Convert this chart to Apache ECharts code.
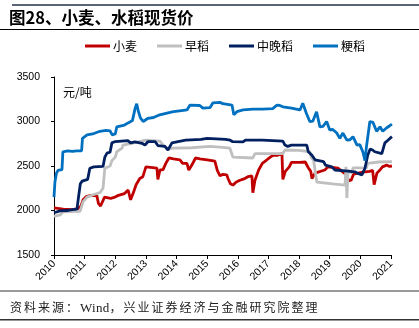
<!DOCTYPE html>
<html>
<head>
<meta charset="utf-8">
<script src="https://cdn.jsdelivr.net/npm/echarts@6/dist/echarts.min.js"></script>
<style>
  html, body { margin: 0; padding: 0; background: #fff; }
  #wrap { position: relative; width: 419px; height: 328px; }
  #chart { width: 419px; height: 328px; }
  #topRule { position: absolute; left: 12px; top: 4px; width: 407px; height: 2px; background: #5b6478; }
  #source {
    position: absolute; left: 10px; top: 298px;
    font-family: "Liberation Serif", "Noto Sans CJK SC", serif;
    font-size: 12px; letter-spacing: 2px; color: #222; white-space: nowrap;
  }
  #source .latin { letter-spacing: 0.3px; font-size: 13px; }
</style>
</head>
<body>
<div id="wrap">
  <div id="chart"></div>
  <div id="topRule"></div>
  <div id="source">资料来源：<span class="latin">Wind</span>，兴业证券经济与金融研究院整理</div>
</div>
<script>
// Spot prices, yuan per tonne, as [year, price]
var wheat = [
  [2010.0,2030],[2010.3,2015],[2010.6,2010],[2010.78,2020],[2010.88,2050],[2010.95,2120],
  [2011.05,2155],[2011.2,2170],[2011.4,2165],[2011.45,2080],[2011.52,2050],[2011.58,2055],
  [2011.65,2150],[2011.85,2135],[2011.98,2150],[2012.1,2170],[2012.3,2190],[2012.42,2230],
  [2012.5,2120],[2012.58,2190],[2012.68,2290],[2012.8,2360],[2012.9,2380],[2013.0,2490],
  [2013.36,2475],[2013.39,2350],[2013.46,2455],[2013.56,2460],[2013.65,2530],[2013.75,2590],
  [2013.9,2580],[2014.11,2570],[2014.2,2530],[2014.34,2530],[2014.4,2455],[2014.5,2510],
  [2014.62,2590],[2014.76,2580],[2015.0,2570],[2015.25,2555],[2015.33,2450],[2015.42,2390],
  [2015.5,2405],[2015.64,2400],[2015.68,2360],[2015.76,2300],[2015.84,2285],[2015.95,2320],
  [2016.07,2340],[2016.2,2355],[2016.33,2380],[2016.46,2390],[2016.49,2200],[2016.56,2340],
  [2016.68,2455],[2016.8,2530],[2016.95,2570],[2017.06,2600],[2017.15,2620],[2017.3,2620],
  [2017.44,2640],[2017.47,2350],[2017.55,2440],[2017.68,2490],[2017.75,2540],[2018.03,2540],
  [2018.2,2545],[2018.3,2480],[2018.38,2440],[2018.42,2360],[2018.52,2420],[2018.84,2455],
  [2018.94,2490],[2019.27,2475],[2019.4,2440],[2019.55,2400],[2019.62,2335],[2019.7,2340],
  [2019.78,2410],[2020.08,2430],[2020.3,2440],[2020.4,2450],[2020.45,2290],[2020.54,2420],
  [2020.64,2455],[2020.72,2490],[2020.86,2510],[2020.95,2495],[2021.03,2500]
];

var earlyRice = [
  [2010.0,1935],[2010.2,1950],[2010.29,1985],[2010.85,1990],[2010.95,2100],[2011.08,2150],
  [2011.3,2180],[2011.5,2200],[2011.6,2250],[2011.66,2475],[2011.83,2500],[2011.89,2560],
  [2012.0,2600],[2012.05,2660],[2012.22,2700],[2012.25,2735],[2012.54,2755],[2012.58,2775],
  [2013.0,2790],[2013.46,2780],[2013.56,2735],[2013.72,2690],[2013.88,2700],[2014.5,2705],
  [2015.09,2720],[2015.5,2710],[2015.74,2700],[2015.8,2640],[2015.84,2600],[2016.49,2590],
  [2016.56,2640],[2016.62,2650],[2017.47,2640],[2017.54,2680],[2018.0,2675],[2018.35,2660],
  [2018.4,2590],[2018.47,2570],[2018.52,2455],[2018.58,2320],[2019.1,2300],[2019.5,2285],
  [2019.53,2490],[2019.56,2140],[2019.6,2455],[2019.72,2420],[2019.76,2480],[2020.2,2480],
  [2020.24,2530],[2020.6,2545],[2021.03,2550]
];

var midLateRice = [
  [2010.0,1975],[2010.2,1995],[2010.45,2000],[2010.6,2010],[2010.75,2015],[2010.8,2150],
  [2010.86,2300],[2010.92,2330],[2011.1,2350],[2011.17,2475],[2011.3,2490],[2011.6,2495],
  [2011.66,2600],[2011.73,2645],[2011.83,2655],[2011.89,2760],[2012.0,2775],[2012.05,2790],
  [2012.41,2785],[2012.5,2760],[2012.64,2770],[2012.87,2755],[2012.97,2735],[2013.07,2775],
  [2013.3,2775],[2013.39,2730],[2013.62,2720],[2013.72,2680],[2013.85,2760],[2014.05,2775],
  [2014.3,2790],[2014.8,2800],[2015.0,2810],[2015.6,2800],[2015.75,2790],[2015.82,2775],
  [2016.17,2770],[2016.25,2790],[2016.8,2790],[2017.47,2780],[2017.54,2735],[2017.63,2720],
  [2017.75,2735],[2018.25,2735],[2018.3,2660],[2018.42,2620],[2018.52,2570],[2018.8,2550],
  [2018.86,2510],[2019.07,2490],[2019.17,2455],[2019.5,2445],[2019.82,2435],[2019.9,2420],
  [2020.05,2400],[2020.15,2475],[2020.24,2620],[2020.32,2690],[2020.4,2680],[2020.47,2660],
  [2020.7,2640],[2020.8,2760],[2020.9,2790],[2020.96,2800],[2021.03,2830]
];

var japonicaRice = [
  [2010.0,2150],[2010.03,2320],[2010.08,2420],[2010.13,2450],[2010.26,2460],[2010.29,2660],
  [2010.45,2670],[2010.6,2665],[2010.75,2670],[2010.9,2670],[2010.93,2810],[2011.08,2850],
  [2011.3,2865],[2011.5,2890],[2011.7,2900],[2011.83,2895],[2011.9,2850],[2012.0,2860],
  [2012.05,2940],[2012.3,2960],[2012.45,2990],[2012.56,3010],[2012.65,3150],[2012.7,3200],
  [2012.75,3120],[2012.82,3040],[2012.91,3000],[2013.07,3036],[2013.25,3045],[2013.45,3075],
  [2013.69,3095],[2013.9,3110],[2014.1,3120],[2014.34,3130],[2014.44,3185],[2014.76,3180],
  [2014.86,3150],[2015.09,3155],[2015.19,3210],[2015.42,3215],[2015.51,3200],[2015.81,3185],
  [2015.87,3075],[2015.97,3110],[2016.17,3130],[2016.5,3140],[2016.8,3140],[2017.14,3145],
  [2017.28,3185],[2017.37,3180],[2017.47,3165],[2017.75,3150],[2018.03,3130],[2018.12,3205],
  [2018.24,3090],[2018.35,3000],[2018.45,3005],[2018.57,3110],[2018.68,2940],[2018.78,2945],
  [2018.9,3000],[2019.0,2905],[2019.1,2910],[2019.23,2870],[2019.33,2810],[2019.43,2870],
  [2019.56,2790],[2019.66,2795],[2019.76,2830],[2019.89,2735],[2019.98,2740],[2020.08,2660],
  [2020.15,2560],[2020.2,2720],[2020.31,3000],[2020.41,2990],[2020.53,2890],[2020.64,2940],
  [2020.73,2890],[2020.86,2930],[2020.95,2950],[2021.03,2970]
];

var seriesNames = ['小麦', '早稻', '中晚稻', '粳稻'];
var seriesColors = ['#C00000', '#BFBFBF', '#002060', '#0070C0'];
var yearLabels = ['2010','2011','2012','2013','2014','2015','2016','2017','2018','2019','2020','2021'];

var chart = echarts.init(document.getElementById('chart'), null, { renderer: 'canvas' });

function lineSeries(name, data, color) {
  return {
    name: name,
    type: 'line',
    data: data,
    showSymbol: false,
    symbol: 'none',
    clip: false,
    lineStyle: { color: color, width: 2.8 },
    itemStyle: { color: color },
    emphasis: { disabled: true }
  };
}

chart.setOption({
  animation: false,
  textStyle: { fontFamily: 'Liberation Sans, Arial, sans-serif' },
  grid: { left: 54, right: 28, top: 77, bottom: 73, containLabel: false },
  legend: {
    left: 85,
    top: 40,
    padding: 0,
    itemWidth: 25,
    itemHeight: 3,
    itemGap: 20,
    icon: 'rect',
    textStyle: { fontSize: 12, color: '#000', fontFamily: 'Noto Sans CJK SC', padding: [0, 0, 0, -2] },
    data: seriesNames
  },
  xAxis: {
    type: 'value',
    min: 2010,
    max: 2021,
    interval: 1,
    splitLine: { show: false },
    axisLine: { lineStyle: { color: '#000', width: 1 } },
    axisTick: { show: true, length: 4, lineStyle: { color: '#000' } },
    axisLabel: {
      rotate: 45,
      margin: 7,
      fontSize: 10.5,
      color: '#000',
      formatter: function (v) { return yearLabels[Math.round(v - 2010)]; }
    }
  },
  yAxis: {
    type: 'value',
    min: 1500,
    max: 3500,
    interval: 500,
    splitLine: { show: false },
    axisLine: { show: true, lineStyle: { color: '#000', width: 1 } },
    axisTick: { show: true, length: 3, lineStyle: { color: '#000' } },
    axisLabel: { fontSize: 10.5, color: '#000', margin: 14, formatter: function (v) { return String(v); } }
  },
  graphic: [
    { type: 'text', left: 9, top: 9, style: { text: '图28、小麦、水稻现货价', fontSize: 16.5, fontWeight: 'bold', fill: '#000', fontFamily: 'Noto Sans CJK SC' } },
    { type: 'rect', shape: { x: 0, y: 29, width: 419, height: 1 }, style: { fill: '#000' }, silent: true },
    { type: 'text', left: 63, top: 86, style: { text: '元/吨', fontSize: 12, fill: '#000', fontFamily: 'Noto Sans CJK SC' } },
    { type: 'rect', shape: { x: 0, y: 290, width: 419, height: 2 }, style: { fill: '#9a9a9a' }, silent: true },
    { type: 'rect', shape: { x: 0, y: 319, width: 419, height: 1.5 }, style: { fill: '#333' }, silent: true }
  ],
  series: [
    lineSeries(seriesNames[0], wheat, seriesColors[0]),
    lineSeries(seriesNames[1], earlyRice, seriesColors[1]),
    lineSeries(seriesNames[2], midLateRice, seriesColors[2]),
    lineSeries(seriesNames[3], japonicaRice, seriesColors[3])
  ]
});
</script>
</body>
</html>
